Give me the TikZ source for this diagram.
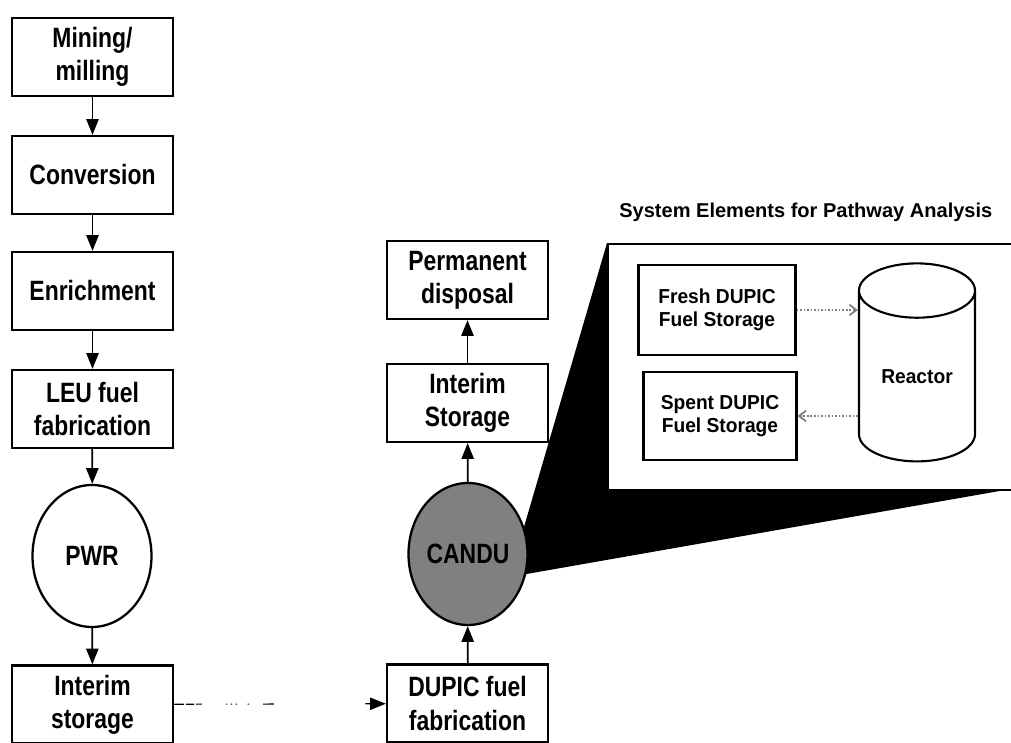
\documentclass[tikz,border=0pt]{standalone}
\usepackage{fontspec}
\setmainfont{Liberation Sans}
\newfontfamily\stagefont{Liberation Sans}[FakeStretch=0.82]
\newfontfamily\insetfont{Liberation Sans}[FakeStretch=0.95]
\usetikzlibrary{arrows.meta,shapes.geometric,backgrounds}

\begin{document}
\begin{tikzpicture}[>={Triangle[length=9pt,width=7pt]},
  stage/.style={draw,line width=1.3pt,minimum width=3.22cm,minimum height=1.56cm,inner sep=0pt,align=center,
    font=\stagefont\bfseries\fontsize{15.9}{18.8}\selectfont},
  reactorstage/.style={draw,line width=1.3pt,ellipse,minimum width=2.38cm,minimum height=2.84cm,inner sep=0pt,
    font=\stagefont\bfseries\fontsize{15.9}{18.8}\selectfont},
  flow/.style={->,line width=1pt},
  element/.style={draw,line width=1.2pt,inner sep=0pt,align=center,
    font=\insetfont\bfseries\fontsize{11.5}{13}\selectfont},
  transfer/.style={densely dotted,gray,line width=1pt,-{Straight Barb[length=4pt,width=6pt]}}]
  \useasboundingbox (0,0) rectangle (20.22,14.86);
  % once-through PWR cycle
  \node[stage] (mining) at (1.85,13.72) {Mining/\\milling};
  \node[stage] (conversion) at (1.85,11.36) {Conversion};
  \node[stage] (enrichment) at (1.85,9.04) {Enrichment};
  \node[stage] (leu) at (1.85,6.68) {LEU fuel\\fabrication};
  \node[reactorstage] (pwr) at (1.84,3.74) {PWR};
  \node[stage] (interim) at (1.85,0.77) {Interim\\storage};
  \draw[flow] (mining) -- (conversion);
  \draw[flow] (conversion) -- (enrichment);
  \draw[flow] (enrichment) -- (leu);
  \draw[flow] (leu) -- (pwr);
  \draw[flow] (pwr) -- (interim);
  % DUPIC cycle
  \node[stage] (permanent) at (9.35,9.26) {Permanent\\disposal};
  \node[stage] (storage) at (9.35,6.80) {Interim\\Storage};
  \node[reactorstage,fill=black!50] (candu) at (9.36,3.78) {CANDU};
  \node[stage] (dupic) at (9.35,0.79) {DUPIC fuel\\fabrication};
  \draw[flow] (dupic) -- (candu);
  \draw[flow] (candu) -- (storage);
  \draw[flow] (storage) -- (permanent);
  \draw[flow,line width=0.6pt,dash pattern=on 5.7pt off 1.1pt on 4.5pt off 1.1pt on 3.4pt off 13.6pt on 0.8pt off 2pt on 0.8pt off 2pt on 0.8pt off 6pt on 0.8pt off 8pt on 6.2pt off 52pt on 12pt]
    (interim) -- (dupic);
  % pathway analysis inset
  \node[anchor=west,inner sep=0pt,font=\bfseries\fontsize{11.4}{14}\selectfont] (title) at (12.38,10.62) {System Elements for Pathway Analysis};
  \node[draw,line width=1.3pt,fill=white,anchor=north west,minimum width=8.4cm,minimum height=4.92cm] (inset) at (12.14,10.0) {};
  \coordinate (tip) at (20.22,5.08);
  \begin{scope}[on background layer]
    \fill (candu.26) -- (inset.north west) -- (tip) -- (candu.-19) -- (candu.center) -- cycle;
  \end{scope}
  \node[element,minimum width=3.14cm,minimum height=1.8cm] (fresh) at (14.34,8.66) {Fresh DUPIC\\Fuel Storage};
  \node[element,minimum width=3.06cm,minimum height=1.76cm] (spent) at (14.4,6.54) {Spent DUPIC\\Fuel Storage};
  \node[draw,line width=1.2pt,cylinder,shape border rotate=90,aspect=0.76,minimum width=2.32cm,minimum height=3.96cm,
    inner sep=0pt,font=\insetfont\bfseries\fontsize{11.5}{13}\selectfont] (reactor) at (18.34,7.33) {Reactor};
  \draw[transfer] (fresh.east) -- (fresh.east -| reactor.west);
  \draw[transfer] (reactor.west |- spent.east) -- (spent.east);
\end{tikzpicture}
\end{document}
